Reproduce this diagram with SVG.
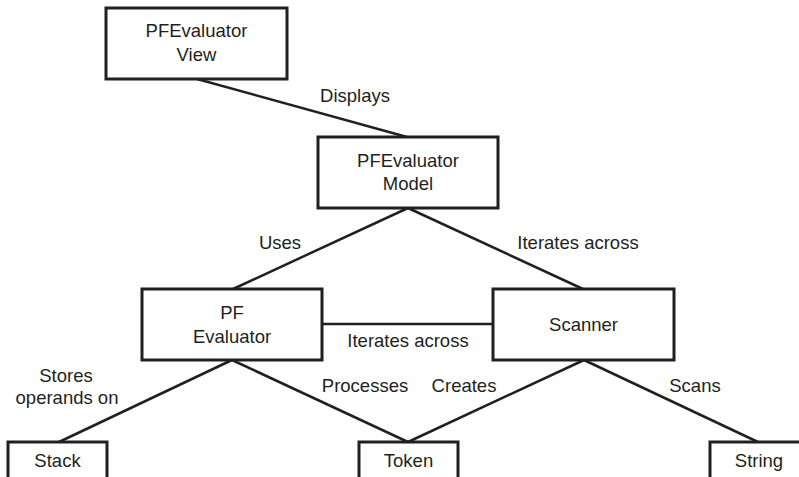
<svg xmlns="http://www.w3.org/2000/svg" width="799" height="477" viewBox="0 0 799 477">
<style>
.box{fill:#fff;stroke:#231f20;stroke-width:3}
.edge{stroke:#231f20;stroke-width:2.5;fill:none}
text{font-family:"Liberation Sans",Arial,sans-serif;font-size:18.5px;fill:#231f20;text-anchor:middle}
</style>
<rect width="799" height="477" fill="#fff"/>
<g id="connectors">
<line class="edge" x1="197" y1="79" x2="407" y2="137"/>
<line class="edge" x1="408" y1="208" x2="233" y2="289"/>
<line class="edge" x1="408" y1="208" x2="583" y2="289"/>
<line class="edge" x1="322" y1="324" x2="493" y2="324"/>
<line class="edge" x1="232" y1="360" x2="59" y2="442"/>
<line class="edge" x1="232" y1="360" x2="408" y2="442"/>
<line class="edge" x1="584" y1="360" x2="408" y2="442"/>
<line class="edge" x1="584" y1="360" x2="758" y2="442"/>
<text x="355" y="102">Displays</text>
<text x="280" y="249">Uses</text>
<text x="578" y="249">Iterates across</text>
<text x="408" y="347">Iterates across</text>
<text x="66" y="382">Stores</text>
<text x="67" y="404">operands on</text>
<text x="365" y="392">Processes</text>
<text x="464" y="392">Creates</text>
<text x="695" y="392">Scans</text>
</g>
<g id="view">
<rect class="box" x="106" y="8" width="181" height="71"/>
<text x="196.5" y="37">PFEvaluator</text>
<text x="196.5" y="61">View</text>
</g>
<g id="model">
<rect class="box" x="318" y="137" width="180" height="71"/>
<text x="408" y="167">PFEvaluator</text>
<text x="408" y="190">Model</text>
</g>
<g id="pfevaluator">
<rect class="box" x="142" y="289" width="180" height="71"/>
<text x="232" y="319">PF</text>
<text x="232" y="343">Evaluator</text>
</g>
<g id="scanner">
<rect class="box" x="493" y="289" width="181" height="71"/>
<text x="583.5" y="331">Scanner</text>
</g>
<g id="stack">
<rect class="box" x="8" y="442" width="99" height="50"/>
<text x="57.5" y="467">Stack</text>
</g>
<g id="token">
<rect class="box" x="359" y="442" width="99" height="50"/>
<text x="408.5" y="467">Token</text>
</g>
<g id="string">
<rect class="box" x="710" y="442" width="99" height="50"/>
<text x="759" y="467">String</text>
</g>
</svg>
